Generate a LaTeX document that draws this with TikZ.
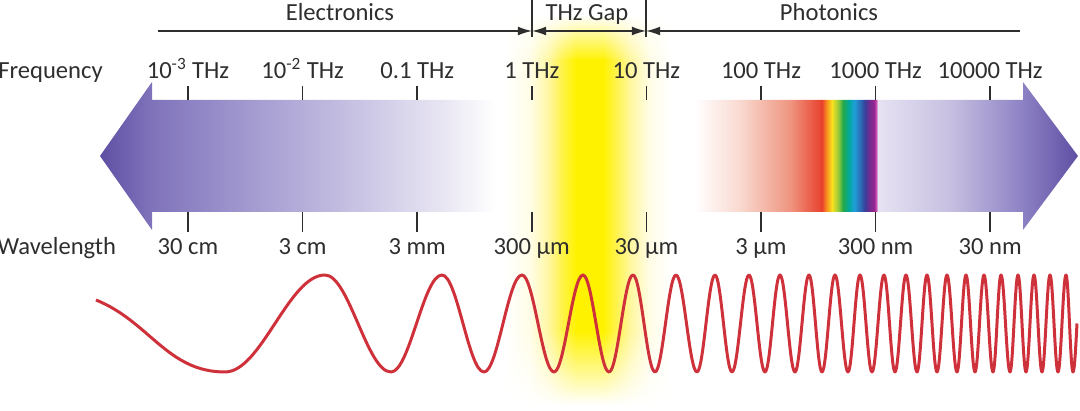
\documentclass[tikz,border=0pt]{standalone}
\usepackage{fontspec}
\setmainfont{Carlito}
\usepackage{tikz}
\usetikzlibrary{arrows.meta, fadings}
\definecolor{thzink}{HTML}{2E2E2E}
\definecolor{thzred}{HTML}{CF313B}
\definecolor{bartip}{HTML}{5F4FA3}
\definecolor{barpa}{HTML}{8073BB}
\definecolor{barpb}{HTML}{A39AD0}
\definecolor{barpc}{HTML}{C6C0E2}
\definecolor{barpd}{HTML}{E9E6F3}
\definecolor{barpka}{HTML}{F9D9D0}
\definecolor{barpkb}{HTML}{EF9580}
\definecolor{specred}{HTML}{E8412D}
\definecolor{specorg}{HTML}{F6891F}
\definecolor{specyel}{HTML}{F9E11E}
\definecolor{speclime}{HTML}{9CCB3B}
\definecolor{specgrn}{HTML}{22A94B}
\definecolor{specteal}{HTML}{01A89E}
\definecolor{speccyan}{HTML}{1DA0D8}
\definecolor{specblue}{HTML}{2B6FB6}
\definecolor{specind}{HTML}{3A3F9A}
\definecolor{specvio}{HTML}{6E2C91}
\definecolor{specpur}{HTML}{93278F}
\definecolor{specmag}{HTML}{C94AAE}
\definecolor{barla}{HTML}{E6E2F2}
\definecolor{barlb}{HTML}{C7C0E1}
\definecolor{barlc}{HTML}{8D81C4}
\definecolor{glowfaint}{HTML}{FFFDE6}
\definecolor{glowpale}{HTML}{FFF7A0}
\definecolor{glowlt}{HTML}{FFF347}
\definecolor{glowcore}{HTML}{FFF200}
\pgfdeclarehorizontalshading{specbar}{100bp}{color(0bp)=(bartip); color(25bp)=(bartip);
  color(27.66bp)=(barpa); color(32.67bp)=(barpb); color(37.78bp)=(barpc); color(42.6bp)=(barpd);
  color(45.2bp)=(white); color(55.42bp)=(white); color(57.72bp)=(barpka); color(60.28bp)=(barpkb);
  color(61.91bp)=(specred); color(62.12bp)=(specorg); color(62.42bp)=(specyel); color(62.73bp)=(speclime);
  color(62.99bp)=(specgrn); color(63.29bp)=(specteal); color(63.55bp)=(speccyan); color(63.85bp)=(specblue);
  color(64.11bp)=(specind); color(64.31bp)=(specvio); color(64.57bp)=(specpur); color(64.67bp)=(specmag);
  color(64.77bp)=(barla); color(68.45bp)=(barlb); color(72.19bp)=(barlc); color(75bp)=(bartip); color(100bp)=(bartip)}
\pgfdeclarehorizontalshading{thzglow}{100bp}{color(0bp)=(white); color(25bp)=(white);
  color(32.6bp)=(glowfaint); color(38.2bp)=(glowpale); color(42.3bp)=(glowlt); color(46.4bp)=(glowcore);
  color(54.6bp)=(glowcore); color(58.2bp)=(glowlt); color(62.8bp)=(glowpale); color(68.5bp)=(glowfaint);
  color(75bp)=(white); color(100bp)=(white)}
\tikzfading[name=glowtop, top color=transparent!100, bottom color=transparent!0]
\tikzfading[name=glowbot, top color=transparent!0, bottom color=transparent!100]

\begin{document}
\begin{tikzpicture}[x=0.02cm, y=0.02cm, font=\fontsize{14}{17}\selectfont, text=thzink,
    >={Latex[length=8pt, width=5pt]},
    lbl/.style={inner sep=0pt, anchor=base},
    tick/.style={draw=thzink, line width=0.9pt},
    guide/.style={draw=thzink, line width=0.8pt},
    wave/.style={draw=thzred, line width=1.7pt, line join=round}]
\useasboundingbox (0,0) rectangle (1080,411);

% spectrum arrow
\shade[shading=specbar] (100,255) -- (152,329) -- (152,311) -- (1023,311) -- (1023,329)
    -- (1078,255) -- (1023,181) -- (1023,199) -- (152,199) -- (152,181) -- cycle;

% glow of the THz gap
\shade[shading=thzglow, path fading=glowtop] (505,350) rectangle (671,396);
\shade[shading=thzglow] (505,79) rectangle (671,351);
\shade[shading=thzglow, path fading=glowbot] (505,6) rectangle (671,80);

\draw[wave] (96,111) to[out=-22, in=180] (225,39)
    \foreach \t/\p/\u in {225/325/391, 391/442/484, 484/522/554, 554/583/609, 609/633/655,
        655/676/697, 697/715/732, 732/749/765, 765/780/795, 795/809/822, 822/835/848,
        848/860/872, 872/884/895, 895/906/917, 917/927/937, 937/947/957, 957/966/975,
        975/984/993, 993/1001/1010, 1010/1018/1026, 1026/1034/1042, 1042/1050/1058, 1058/1066/1073}
    {cos ({(\t+\p)/2},87.5) sin (\p,136) cos ({(\p+\u)/2},87.5) sin (\u,39)}
    cos (1077,87.5);

\foreach \fr/\wl [count=\i] in {{10\textsuperscript{-3} THz}/30 cm, {10\textsuperscript{-2} THz}/3 cm,
    0.1 THz/3 mm, 1 THz/300 µm, 10 THz/30 µm, 100 THz/3 µm, 1000 THz/300 nm, 10000 THz/30 nm}
{
    \pgfmathsetmacro\tx{188+(\i-1)*114.6}
    \coordinate (ft\i) at (\tx, 311);
    \coordinate (wt\i) at (\tx, 199);
    \draw[tick] (ft\i) -- ++(0,14);
    \draw[tick] (wt\i) -- ++(0,-20);
    \node[lbl] (fl\i) at (\tx, 332) {\fr};
    \node[lbl] (wl\i) at (\tx, 156) {\wl};
}
\node[lbl, anchor=base west] (freq) at (-2,332) {Frequency};
\node[lbl, anchor=base west] (wavel) at (-3,156) {Wavelength};

\coordinate (elecL) at (158,380);
\coordinate (gapL) at (532,380);
\coordinate (gapR) at (646,380);
\coordinate (photR) at (1020,380);
\draw[guide] (gapL) ++(0,31) -- ++(0,-37);
\draw[guide] (gapR) ++(0,31) -- ++(0,-37);
\draw[guide, ->] (elecL) -- (gapL);
\draw[guide, <->] (gapL) -- (gapR);
\draw[guide, <-] (gapR) -- (photR);
\node[lbl] (elec) at (340,390) {Electronics};
\node[lbl] (gap) at (587,390) {THz Gap};
\node[lbl] (phot) at (829,390) {Photonics};
\end{tikzpicture}
\end{document}
